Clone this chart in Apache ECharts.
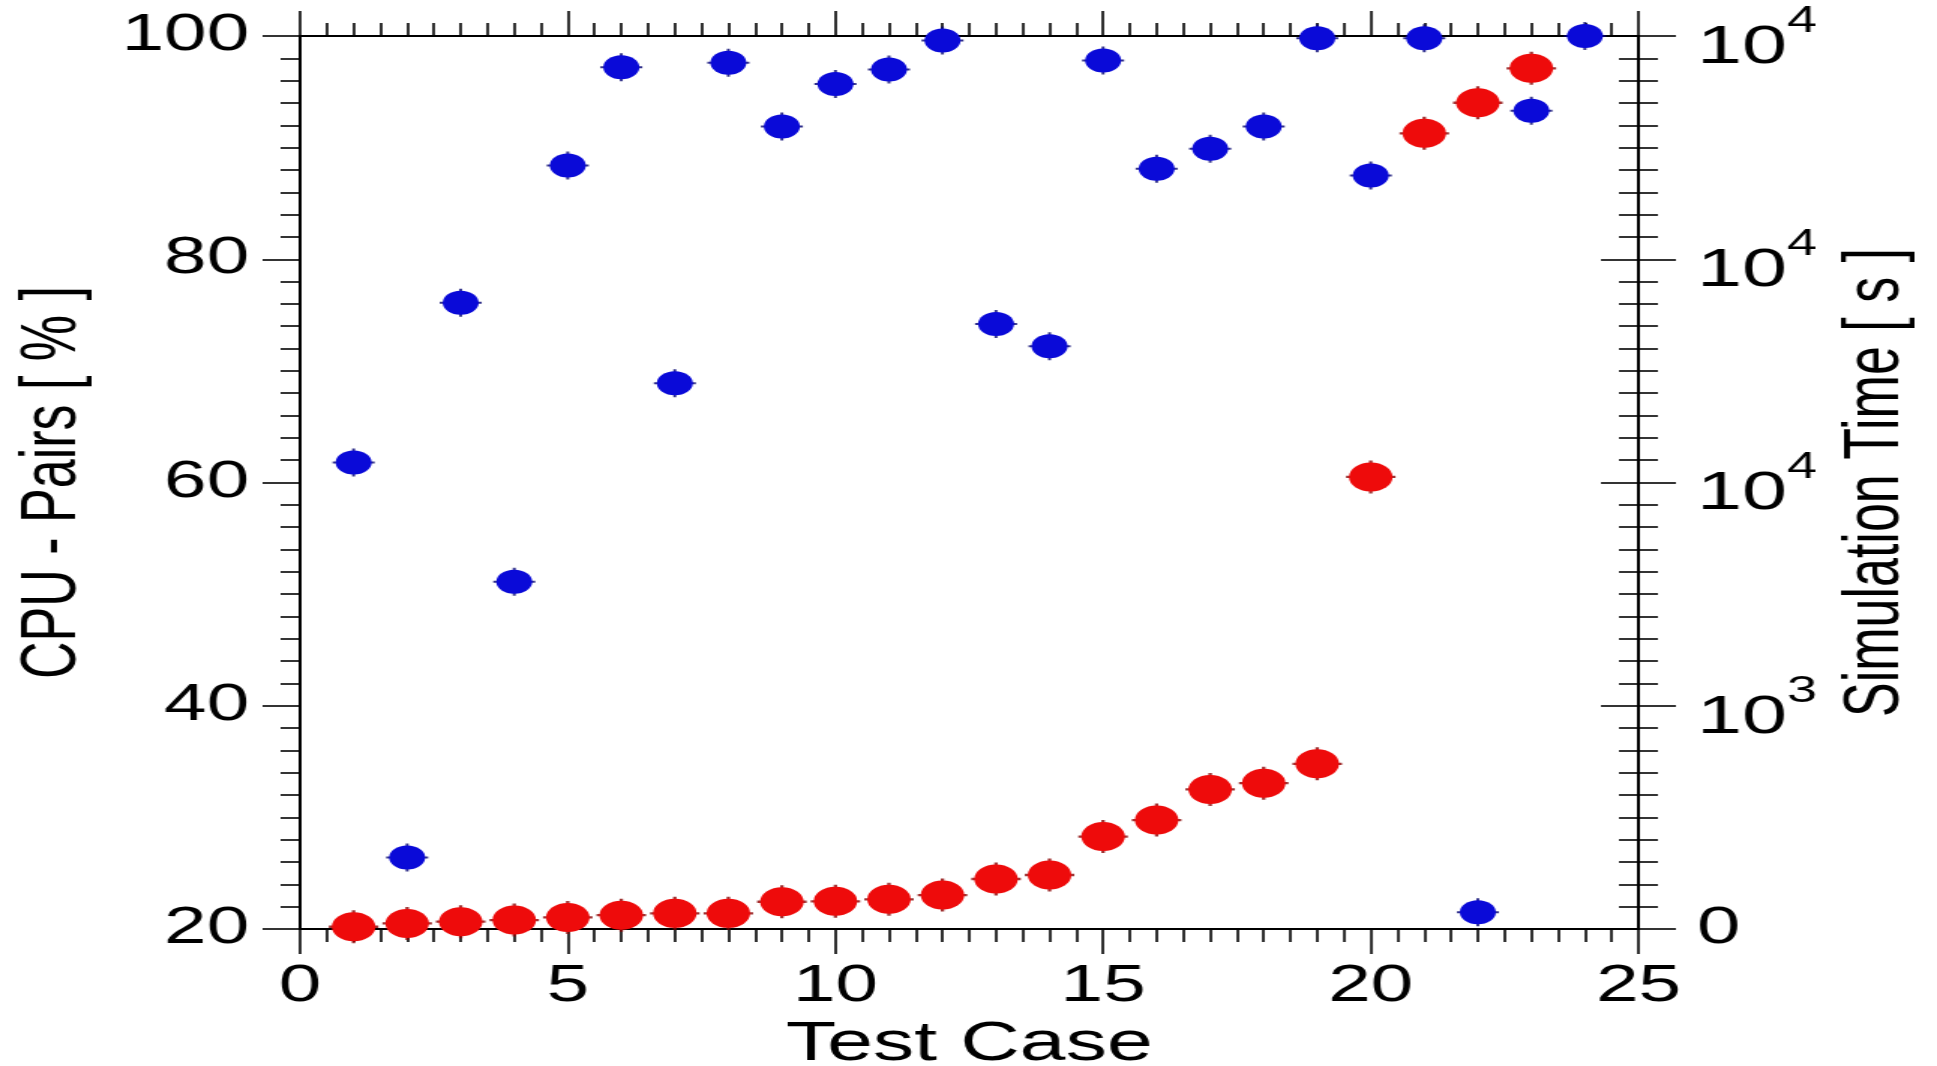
<!DOCTYPE html>
<html>
<head>
<meta charset="utf-8">
<title>CPU - Pairs and Simulation Time per Test Case</title>
<script src="https://cdn.jsdelivr.net/npm/echarts@6/dist/echarts.min.js"></script>
<style>
  html, body { margin: 0; padding: 0; background: #fff; overflow: hidden; }
  /* the figure is drawn on a square-ish plot and widened horizontally */
  #chart { width: 1291px; height: 1066px; transform: scaleX(1.50039); transform-origin: 0 0; }
</style>
</head>
<body>
<div id="chart"></div>
<script>
// ---- data -------------------------------------------------------------
const testCases = [1, 2, 3, 4, 5, 6, 7, 8, 9, 10, 11, 12, 13, 14, 15, 16, 17, 18, 19, 20, 21, 22, 23, 24];

// CPU share spent on pairs, percent (left axis)
const cpuPairsPct = [61.8, 26.4, 76.1, 51.1, 88.4, 97.2, 68.9, 97.6, 91.9, 95.7, 97.0, 99.6,
                     74.2, 72.2, 97.8, 88.1, 89.9, 91.9, 99.8, 87.5, 99.8, 21.5, 93.3, 100.0];

// simulation wall time, seconds (right axis), test cases 1..23
const simTimeSec = [50, 125, 165, 200, 260, 310, 350, 350, 610, 620, 665, 760,
                    1120, 1210, 2070, 2440, 3125, 3265, 3700, 10125, 17820, 18505, 19275];

// tick labels of the time axis, one per major tick (0, 5000, ... 20000 s)
const timeTickLabels = ['0', '10^3', '10^4', '10^4', '10^4'];

// ---- styling ----------------------------------------------------------
const FONT = '"Liberation Sans", Arial, Helvetica, sans-serif';
const BLACK = '#000';
const BLUE = '#0a0ad8';
const RED = '#ee0b0b';

const tickLine = { color: BLACK, width: 1.6 };
const commonX = {
  type: 'value', min: 0, max: 25, interval: 5,
  axisLine: { show: true, onZero: false, lineStyle: { color: BLACK, width: 2 } },
  axisTick: { show: true, length: 25, lineStyle: tickLine },
  minorTick: { show: true, splitNumber: 10, length: 13, lineStyle: tickLine },
  splitLine: { show: false }
};

const timeAxisBase = {
  type: 'value', min: 0, max: 20000, interval: 5000,
  position: 'right', offset: 0,
  splitLine: { show: false }
};

function timeLabel(value, index) {
  const txt = timeTickLabels[index] !== undefined ? timeTickLabels[index] : String(value);
  const parts = txt.split('^');
  if (parts.length === 2) return '{b|' + parts[0] + '}{s|' + parts[1] + '}';
  return '{z|' + txt + '}';
}

// plus-shaped spikes drawn under each dot
const spikePath = 'path://M-1,-0.07L1,-0.07L1,0.07L-1,0.07Z M-0.07,-1L0.07,-1L0.07,1L-0.07,1Z';

const cpuPoints = testCases.map((t, i) => [t, cpuPairsPct[i]]);
const timePoints = simTimeSec.map((v, i) => [testCases[i], v]);

const chart = echarts.init(document.getElementById('chart'), null, { renderer: 'canvas' });

chart.setOption({
  animation: false,
  backgroundColor: '#fff',
  textStyle: { fontFamily: FONT },
  grid: { left: 200, right: 199, top: 36, bottom: 137, containLabel: false, outerBoundsMode: 'none' },
  xAxis: [
    Object.assign({}, commonX, {
      position: 'bottom',
      name: 'Test Case', nameLocation: 'middle', nameGap: 85,
      nameTextStyle: { fontSize: 55, color: BLACK, fontFamily: FONT },
      axisLabel: { show: true, fontSize: 51, color: BLACK, margin: 32, fontFamily: FONT }
    }),
    Object.assign({}, commonX, {
      position: 'top',
      axisLabel: { show: false }
    })
  ],
  yAxis: [
    {
      type: 'value', min: 20, max: 100, interval: 20, position: 'left',
      name: 'CPU - Pairs [ % ]', nameLocation: 'middle', nameGap: 138,
      nameTextStyle: { fontSize: 52, color: BLACK, fontFamily: FONT },
      axisLine: { show: true, onZero: false, lineStyle: { color: BLACK, width: 2 } },
      axisTick: { show: true, length: 25, lineStyle: tickLine },
      minorTick: { show: true, splitNumber: 10, length: 13, lineStyle: tickLine },
      axisLabel: { fontSize: 51, color: BLACK, margin: 34, fontFamily: FONT },
      splitLine: { show: false }
    },
    Object.assign({}, timeAxisBase, {
      name: 'Simulation Time [ s ]', nameLocation: 'middle', nameGap: 133,
      nameTextStyle: { fontSize: 52, color: BLACK, fontFamily: FONT },
      axisLine: { show: true, onZero: false, lineStyle: { color: BLACK, width: 2 } },
      axisTick: { show: true, length: 25, lineStyle: tickLine },
      minorTick: { show: true, splitNumber: 10, length: 13, lineStyle: tickLine },
      axisLabel: {
        margin: 39, color: BLACK, fontFamily: FONT,
        formatter: timeLabel,
        rich: {
          z: { fontSize: 52, color: BLACK, fontFamily: FONT },
          b: { fontSize: 54, height: 54, lineHeight: 78, verticalAlign: 'bottom', color: BLACK, fontFamily: FONT },
          s: { fontSize: 36, height: 50, verticalAlign: 'top', color: BLACK, fontFamily: FONT }
        }
      }
    }),
    // inward half of the crossing ticks on the time axis
    Object.assign({}, timeAxisBase, {
      axisLine: { show: false, onZero: false },
      axisTick: { show: true, inside: true, length: 25, lineStyle: tickLine },
      minorTick: { show: true, splitNumber: 10, length: 13, lineStyle: tickLine },
      axisLabel: { show: false }
    })
  ],
  series: [
    {
      name: 'CPU - Pairs spikes', type: 'scatter', xAxisIndex: 0, yAxisIndex: 0,
      data: cpuPoints, symbol: spikePath, symbolSize: 28, z: 2, silent: true,
      itemStyle: { color: '#00006e' }
    },
    {
      name: 'CPU - Pairs', type: 'scatter', xAxisIndex: 0, yAxisIndex: 0,
      data: cpuPoints, symbol: 'circle', symbolSize: 24, z: 3,
      itemStyle: { color: BLUE, opacity: 1 }
    },
    {
      name: 'Simulation Time spikes', type: 'scatter', xAxisIndex: 0, yAxisIndex: 1,
      data: timePoints, symbol: spikePath, symbolSize: 33, z: 2, silent: true,
      itemStyle: { color: '#8a0000' }
    },
    {
      name: 'Simulation Time', type: 'scatter', xAxisIndex: 0, yAxisIndex: 1,
      data: timePoints, symbol: 'circle', symbolSize: 29, z: 3,
      itemStyle: { color: RED, opacity: 1 }
    }
  ]
});
</script>
</body>
</html>
